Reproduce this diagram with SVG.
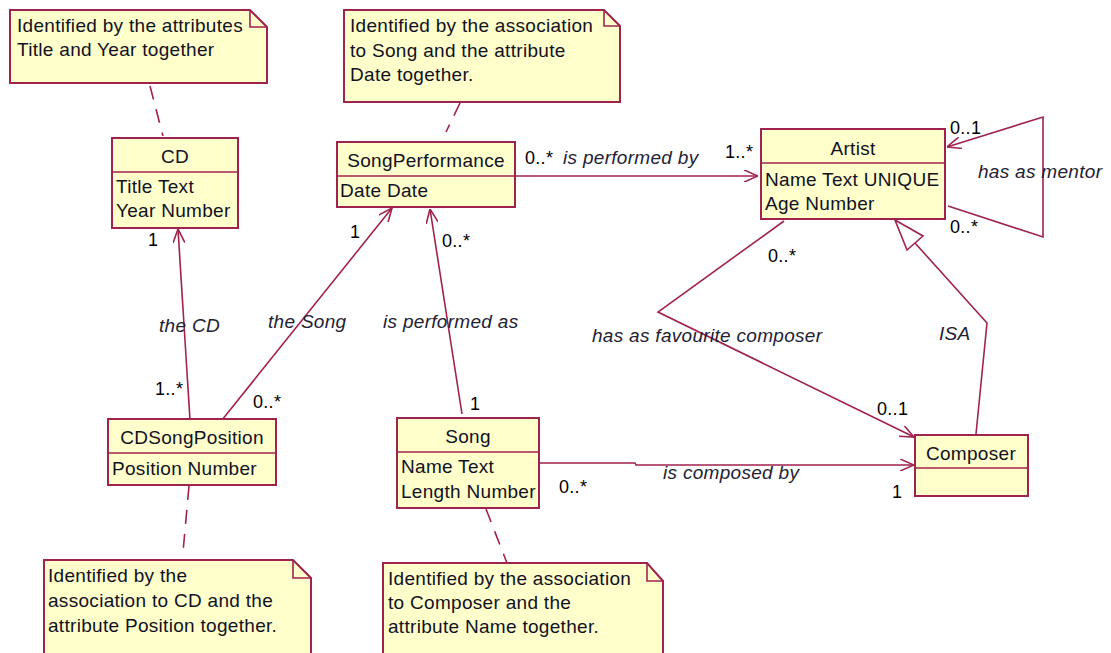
<svg xmlns="http://www.w3.org/2000/svg" width="1111" height="653" viewBox="0 0 1111 653">
<defs>
<style>
.box{fill:#ffffcc;stroke:#a0224f;stroke-width:2}
.ln{fill:none;stroke:#a0224f;stroke-width:1.6}
.dash{fill:none;stroke:#a0224f;stroke-width:1.6;stroke-dasharray:14 10}
text{font-family:"Liberation Sans",Arial,sans-serif;font-size:19px;fill:#111122;letter-spacing:0.3px}
.c{text-anchor:middle}
.i{font-style:italic;fill:#222233}
.m{font-size:18px;fill:#000}
</style>
<marker id="arr" viewBox="0 0 14 12" refX="14" refY="6" markerWidth="14" markerHeight="12" markerUnits="userSpaceOnUse" orient="auto">
<path d="M0,0 L14,6 L0,12" fill="none" stroke="#a0224f" stroke-width="1.6"/>
</marker>
</defs>
<rect width="1111" height="653" fill="#ffffff"/>

<g id="connectors">
<path class="dash" d="M150,86 L163,136"/>
<path class="dash" d="M460,103 L446,132"/>
<path class="dash" d="M189,486 L183,552"/>
<path class="dash" d="M486,509 L507,563"/>
<path class="ln" d="M516,176 L758,176" marker-end="url(#arr)"/>
<path class="ln" d="M190,420 L178,229" marker-end="url(#arr)"/>
<path class="ln" d="M222,420 L392,208" marker-end="url(#arr)"/>
<path class="ln" d="M462,414 L430,209" marker-end="url(#arr)"/>
<path class="ln" d="M540,463 L635,463 L636,465 L914,465" marker-end="url(#arr)"/>
<path class="ln" d="M784,221 L658,312 L914,437" marker-end="url(#arr)"/>
<path class="ln" d="M948,206 L1043,237 L1043,117 L947,147" marker-end="url(#arr)"/>
<path class="ln" d="M976,434 L987,323 L915,243"/>
<path class="ln" d="M895,220 L923,236 L907,250 Z" fill="#ffffff"/>
<text class="m" x="525" y="164">0..*</text>
<text class="i" x="563" y="164">is performed by</text>
<text class="m" x="725" y="158">1..*</text>
<text class="m" x="950" y="134">0..1</text>
<text class="i" x="978" y="178">has as mentor</text>
<text class="m" x="950" y="233">0..*</text>
<text class="m" x="148" y="246">1</text>
<text class="i" x="159" y="332">the CD</text>
<text class="m" x="155" y="395">1..*</text>
<text class="m" x="350" y="238">1</text>
<text class="i" x="268" y="328">the Song</text>
<text class="m" x="253" y="408">0..*</text>
<text class="m" x="442" y="247">0..*</text>
<text class="i" x="383" y="328">is performed as</text>
<text class="m" x="470" y="410">1</text>
<text class="m" x="559" y="493">0..*</text>
<text class="i" x="663" y="479">is composed by</text>
<text class="m" x="892" y="498">1</text>
<text class="m" x="768" y="262">0..*</text>
<text class="i" x="592" y="342">has as favourite composer</text>
<text class="m" x="877" y="415">0..1</text>
<text class="i" x="939" y="340">ISA</text>
</g>

<g id="note1">
<path class="box" d="M10,10 L250,10 L267,27 L267,83 L10,83 Z"/>
<path class="ln" d="M250,10 L250,27 L267,27"/>
<text x="17" y="32">Identified by the attributes</text>
<text x="17" y="56">Title and Year together</text>
</g>

<g id="note2">
<path class="box" d="M344,10 L604,10 L620,26 L620,102 L344,102 Z"/>
<path class="ln" d="M604,10 L604,26 L620,26"/>
<text x="350" y="32">Identified by the association</text>
<text x="350" y="57">to Song and the attribute</text>
<text x="350" y="81">Date together.</text>
</g>

<g id="note3">
<path class="box" d="M44,560 L293,560 L311,578 L311,660 L44,660 Z"/>
<path class="ln" d="M293,560 L293,578 L311,578"/>
<text x="48" y="582">Identified by the</text>
<text x="48" y="607">association to CD and the</text>
<text x="48" y="632">attribute Position together.</text>
</g>

<g id="note4">
<path class="box" d="M383,563 L647,563 L663,581 L663,660 L383,660 Z"/>
<path class="ln" d="M647,563 L647,581 L663,581"/>
<text x="388" y="585">Identified by the association</text>
<text x="388" y="609">to Composer and the</text>
<text x="388" y="633">attribute Name together.</text>
</g>

<g id="CD">
<rect class="box" x="112" y="138" width="126" height="90"/>
<path class="ln" d="M112,172 L238,172"/>
<text class="c" x="175" y="163">CD</text>
<text x="116" y="193">Title Text</text>
<text x="116" y="217">Year Number</text>
</g>

<g id="SongPerformance">
<rect class="box" x="337" y="142" width="178" height="65"/>
<path class="ln" d="M337,176 L515,176"/>
<text class="c" x="426" y="167">SongPerformance</text>
<text x="340" y="197">Date Date</text>
</g>

<g id="Artist">
<rect class="box" x="761" y="129" width="184" height="90"/>
<path class="ln" d="M761,163 L945,163"/>
<text class="c" x="853" y="155">Artist</text>
<text x="765" y="186">Name Text UNIQUE</text>
<text x="765" y="210">Age Number</text>
</g>

<g id="CDSongPosition">
<rect class="box" x="108" y="419" width="168" height="66"/>
<path class="ln" d="M108,453 L276,453"/>
<text class="c" x="192" y="444">CDSongPosition</text>
<text x="112" y="475">Position Number</text>
</g>

<g id="Song">
<rect class="box" x="397" y="418" width="142" height="90"/>
<path class="ln" d="M397,452 L539,452"/>
<text class="c" x="468" y="443">Song</text>
<text x="401" y="473">Name Text</text>
<text x="401" y="498">Length Number</text>
</g>

<g id="Composer">
<rect class="box" x="915" y="435" width="113" height="61"/>
<path class="ln" d="M915,468 L1028,468"/>
<text class="c" x="971" y="460">Composer</text>
</g>
</svg>
